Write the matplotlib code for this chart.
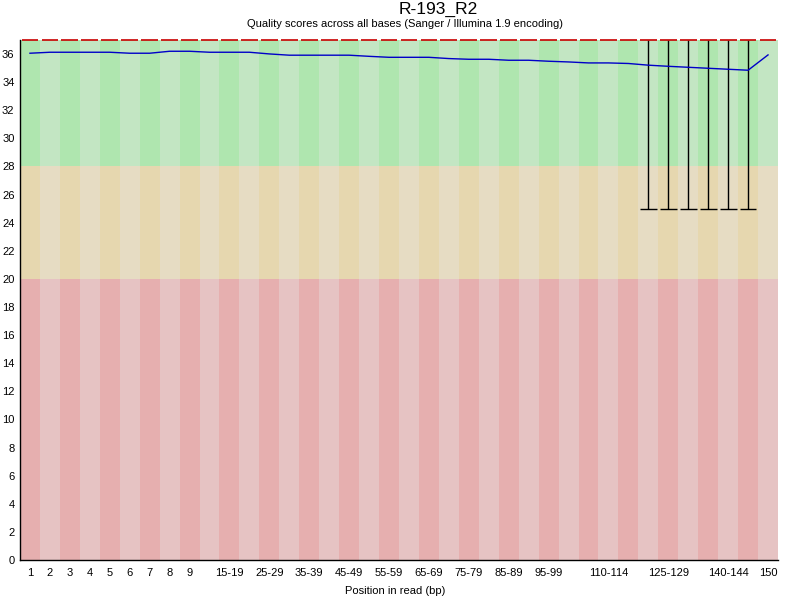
import matplotlib
matplotlib.use("Agg")
import matplotlib.pyplot as plt
import numpy as np

plt.rcParams['font.family'] = ['Liberation Sans', 'DejaVu Sans']

# Per-base quality data
positions = ["1", "2", "3", "4", "5", "6", "7", "8", "9",
             "10-14", "15-19", "20-24", "25-29", "30-34", "35-39", "40-44",
             "45-49", "50-54", "55-59", "60-64", "65-69", "70-74", "75-79",
             "80-84", "85-89", "90-94", "95-99", "100-104", "105-109",
             "110-114", "115-119", "120-124", "125-129", "130-134",
             "135-139", "140-144", "145-149", "150"]
shown_labels = ["1", "2", "3", "4", "5", "6", "7", "8", "9",
                "15-19", "25-29", "35-39", "45-49", "55-59", "65-69",
                "75-79", "85-89", "95-99", "110-114", "125-129",
                "140-144", "150"]

mean_q = [36.06, 36.13, 36.13, 36.13, 36.13, 36.06, 36.06, 36.20, 36.20,
          36.13, 36.13, 36.13, 36.01, 35.92, 35.92, 35.92, 35.92, 35.84,
          35.77, 35.77, 35.77, 35.68, 35.63, 35.63, 35.56, 35.56, 35.49,
          35.44, 35.37, 35.37, 35.33, 35.21, 35.13, 35.06, 34.99, 34.92,
          34.85, 35.94]
median_q = [37] * 38
lower_quartile = [37] * 38
upper_quartile = [37] * 38
lower_whisker = [37] * 31 + [25] * 6 + [37]
upper_whisker = [37] * 38

Y_MAX = 37

# FastQC colours
good = ["#afe6af", "#c3e6c3"]
ok = ["#e6d7af", "#e6dcc3"]
bad = ["#e6afaf", "#e6c3c3"]

fig = plt.figure(figsize=(8, 6), dpi=100)
ax = fig.add_axes([0.025, 0.0667, 0.9475, 0.8666])

x = np.arange(len(positions))
stripe = [i % 2 for i in x]

# background quality zones
ax.bar(x, 20, bottom=0, width=1.0, color=[bad[s] for s in stripe], linewidth=0)
ax.bar(x, 8, bottom=20, width=1.0, color=[ok[s] for s in stripe], linewidth=0)
ax.bar(x, Y_MAX - 28, bottom=28, width=1.0, color=[good[s] for s in stripe], linewidth=0)

lw_arr = np.array(lower_whisker)
uw_arr = np.array(upper_whisker)
lq_arr = np.array(lower_quartile)
uq_arr = np.array(upper_quartile)

# boxes (interquartile range), only where they have some height
has_box = uq_arr > lq_arr
if has_box.any():
    ax.bar(x[has_box], (uq_arr - lq_arr)[has_box], bottom=lq_arr[has_box],
           width=0.85, color="#eeee00", edgecolor="black", linewidth=0.8)

# whiskers
has_whisker = lw_arr < uw_arr
ax.vlines(x[has_whisker], lw_arr[has_whisker], uw_arr[has_whisker],
          color="black", linewidth=1.0)
ax.hlines(lw_arr[has_whisker], x[has_whisker] - 0.42, x[has_whisker] + 0.42,
          color="black", linewidth=1.0)

# medians
ax.hlines(median_q, x - 0.42, x + 0.42, color="#c80000", linewidth=1.2,
          clip_on=False, zorder=5)

# mean line
ax.plot(x, mean_q, color="#0000c8", linewidth=1.0, zorder=4)

ax.set_xlim(-0.5, len(positions) - 0.5)
ax.set_ylim(0, Y_MAX)

ax.set_yticks(np.arange(0, 37, 2))
ax.set_xticks(x)
ax.set_xticklabels([p if p in shown_labels else "" for p in positions])
ax.tick_params(length=0, labelsize=8, pad=4)
ax.tick_params(axis="x", pad=6)

for side in ["top", "right"]:
    ax.spines[side].set_visible(False)
ax.spines["left"].set_linewidth(1.0)
ax.spines["bottom"].set_linewidth(1.0)

fig.text(0.5475, 0.985, "R-193_R2", ha="center", va="center", fontsize=12.5)
fig.text(0.506, 0.96, "Quality scores across all bases (Sanger / Illumina 1.9 encoding)",
         ha="center", va="center", fontsize=8)
fig.text(0.494, 0.015, "Position in read (bp)", ha="center", va="center", fontsize=8)

fig.savefig("out.png", dpi=100)
